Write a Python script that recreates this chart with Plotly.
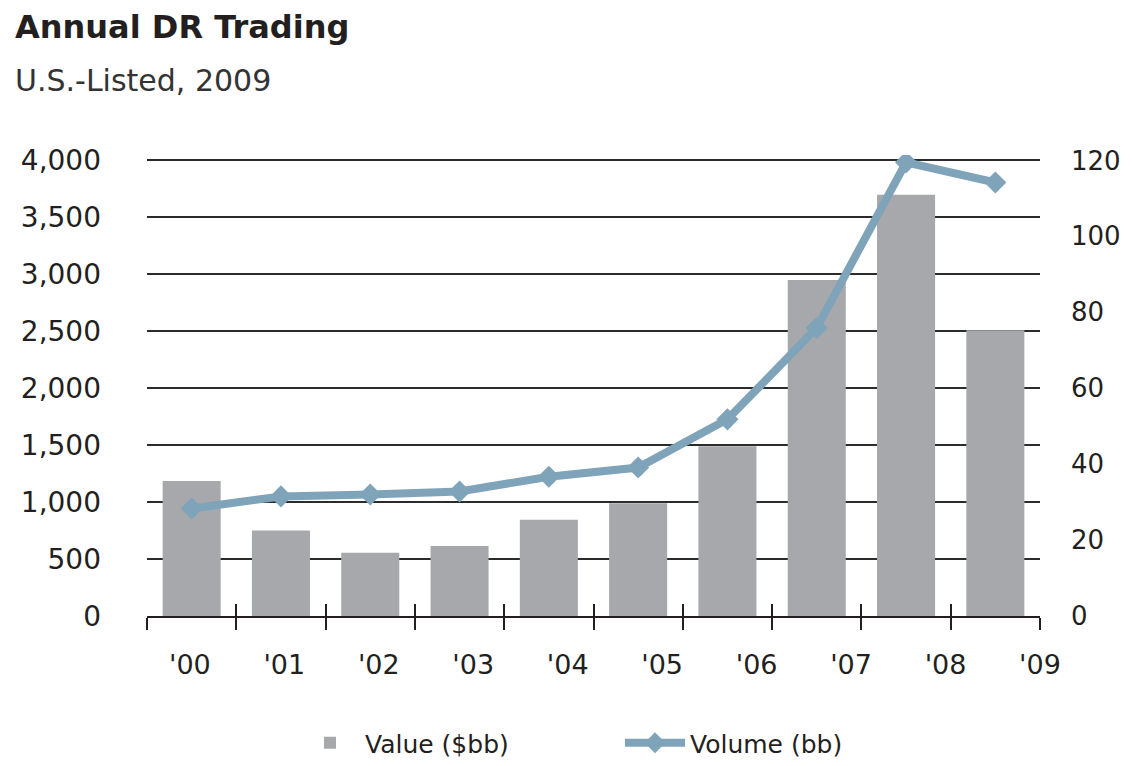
import plotly.graph_objects as go

# ---- data ----
years = ["'00", "'01", "'02", "'03", "'04", "'05", "'06", "'07", "'08", "'09"]
value_bb = [1185, 750, 555, 615, 845, 990, 1490, 2950, 3700, 2510]
volume_bb = [28.3, 31.5, 32.0, 32.8, 36.7, 39.1, 51.8, 75.9, 119.5, 114.2]
left_ticks = [0, 500, 1000, 1500, 2000, 2500, 3000, 3500, 4000]
right_ticks = [0, 20, 40, 60, 80, 100, 120]

# ---- style / layout constants ----
TEXT = "#231f20"
BAR = "#a7a8ab"
LINE = "#7fa4b9"
FONT = "DejaVu Sans"
idx = list(range(len(years)))
slot_edges = [i - 0.5 for i in range(len(years) + 1)]
LABEL_START = -0.02
LABEL_STEP = (len(years) - 0.5 - LABEL_START) / (len(years) - 1)
label_pos = [LABEL_START + LABEL_STEP * i for i in idx]
HEAD = 1.012  # headroom so the top gridline is drawn

# page geometry (browser puts the plot 8px in from the page corner)
OFF = 8
PAGE_W, PAGE_H = 1132, 766
W, H = PAGE_W - OFF, PAGE_H - OFF
PLOT_LEFT, PLOT_RIGHT = 147, 1040          # page px
ZERO_Y, TOP_Y = 616, 160                   # page px of 0 and of 4000
PH = (ZERO_Y - TOP_Y) * HEAD
L = PLOT_LEFT - OFF
R = PAGE_W - PLOT_RIGHT
B = PAGE_H - ZERO_Y
T = H - B - PH
PW = W - L - R


def pg_x(xp):
    return (xp - PLOT_LEFT) / PW


def pg_y(yp):
    return (ZERO_Y - yp) / PH


fig = go.Figure()
fig.add_trace(go.Bar(
    x=idx, y=value_bb, name="Value ($bb)", marker=dict(color=BAR, line=dict(width=0)),
    width=0.65, xaxis="x", yaxis="y"))
fig.add_trace(go.Scatter(
    x=idx, y=volume_bb, name="Volume (bb)", mode="lines+markers",
    line=dict(color=LINE, width=8), marker=dict(symbol="diamond", size=17, color=LINE),
    xaxis="x", yaxis="y2"))
# empty traces to realize the overlay axes
fig.add_trace(go.Scatter(x=[None], y=[None], xaxis="x2", yaxis="y", showlegend=False, hoverinfo="skip"))
fig.add_trace(go.Scatter(x=[None], y=[None], xaxis="x3", yaxis="y", showlegend=False, hoverinfo="skip"))

axis_common = dict(range=[-0.5, len(years) - 0.5], fixedrange=True, showgrid=False, zeroline=False)
fig.update_layout(
    width=W, height=H,
    margin=dict(l=L, r=R, t=T, b=B, pad=0, autoexpand=False),
    plot_bgcolor="white", paper_bgcolor="white",
    font=dict(family=FONT, color=TEXT, size=26),
    bargap=0.35,
    xaxis=dict(**axis_common, tickmode="array", tickvals=slot_edges, showticklabels=False,
               ticks="outside", ticklen=12, tickwidth=2, tickcolor=TEXT,
               showline=True, linecolor=TEXT, linewidth=2),
    xaxis2=dict(**axis_common, overlaying="x", anchor="y", side="bottom",
                tickmode="array", tickvals=slot_edges, showticklabels=False,
                ticks="inside", ticklen=12, tickwidth=2, tickcolor=TEXT),
    xaxis3=dict(**axis_common, overlaying="x", anchor="y", side="bottom",
                tickmode="array", tickvals=label_pos, ticktext=years, ticks="",
                ticklabelstandoff=30, tickfont=dict(size=27, color=TEXT)),
    yaxis=dict(range=[0, 4000 * HEAD], tickmode="array", tickvals=left_ticks,
               tickformat=",d", showgrid=True, gridcolor="#2b2b2b", gridwidth=2,
               zeroline=False, showline=False, ticks="", ticklabelstandoff=45,
               tickfont=dict(size=28, color=TEXT), fixedrange=True),
    yaxis2=dict(range=[0, 120 * HEAD], overlaying="y", side="right", tickmode="array",
                tickvals=right_ticks, showgrid=False, zeroline=False, showline=False,
                ticks="", ticklabelstandoff=30, tickfont=dict(size=26, color=TEXT),
                fixedrange=True),
    showlegend=True,
    legend=dict(orientation="h", x=pg_x(295), xanchor="left",
                yref="container", y=1 - (720 - OFF) / H, yanchor="top",
                font=dict(size=25, color=TEXT), entrywidth=250, entrywidthmode="pixels",
                itemwidth=60, bgcolor="rgba(0,0,0,0)"),
    annotations=[
        dict(text="<b>Annual DR Trading</b>", xref="paper", yref="paper",
             x=pg_x(13), y=pg_y(5), xanchor="left", yanchor="top", showarrow=False,
             font=dict(family=FONT, size=32, color=TEXT)),
        dict(text="U.S.-Listed, 2009", xref="paper", yref="paper",
             x=pg_x(13), y=pg_y(60), xanchor="left", yanchor="top", showarrow=False,
             font=dict(family=FONT, size=30, color="#333333")),
    ],
)

fig.write_html("out.html")
